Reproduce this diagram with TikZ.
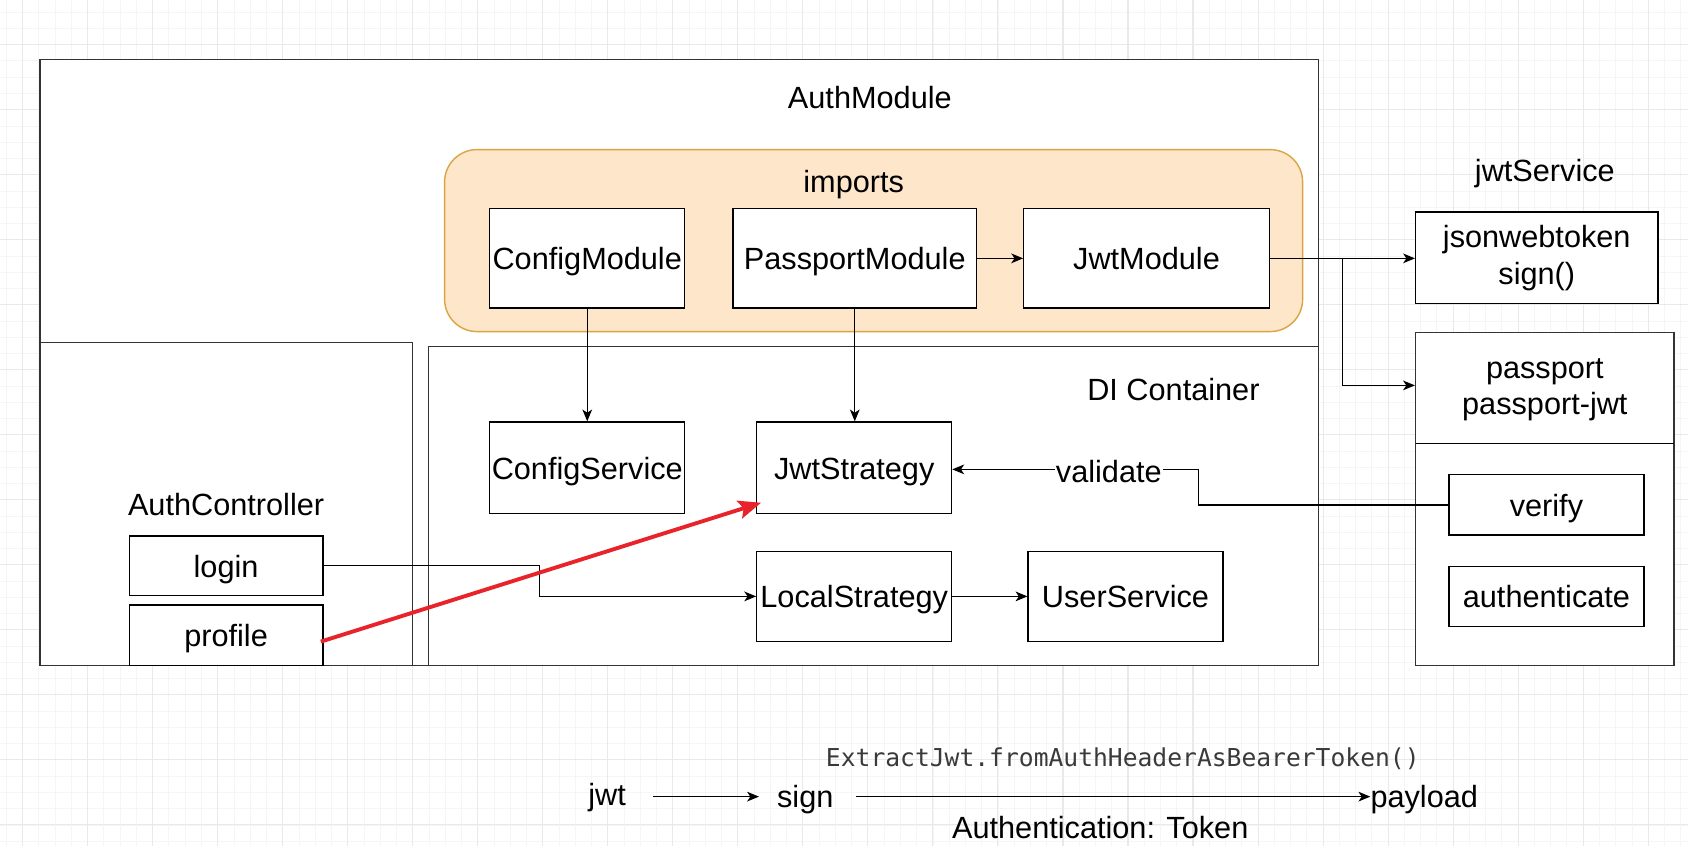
\documentclass[tikz,border=0pt]{standalone}
\usepackage{fontspec}
\setmainfont{Liberation Sans}
\newfontfamily\codefont{DejaVu Sans Mono}
\usetikzlibrary{arrows.meta}
\definecolor{gridmin}{HTML}{F5F5F5}
\definecolor{gridmaj}{HTML}{E9E9E9}
\definecolor{impfill}{HTML}{FDE6CA}
\definecolor{impdraw}{HTML}{D9A441}
\definecolor{redarrow}{HTML}{E8232A}
\definecolor{codegray}{HTML}{3A3A3A}
\tikzset{
  txt/.style={font=\fontsize{28.5}{33}\selectfont, inner sep=0pt, align=center},
  mtxt/.style={font=\fontsize{28.5}{33}\selectfont, inner sep=0pt, align=center},
  box/.style={draw=black, line width=1.2pt, fill=white, txt, text height=21pt, text depth=0pt},
  mbox/.style={draw=black, line width=1.2pt, fill=white, mtxt},
  frame/.style={draw=black!80, line width=1.3pt, fill=white, inner sep=0pt},
  conn/.style={draw=black, line width=1.2pt, -{Stealth[length=11pt,width=9pt,inset=3pt]}},
  plain/.style={draw=black, line width=1.2pt},
}
\begin{document}
\begin{tikzpicture}[x=1pt,y=-1pt]
\useasboundingbox (0,0) rectangle (1568,786);
\fill[white] (0,0) rectangle (1568,786);
% grid
\foreach \i in {0,...,104} {
  \pgfmathsetmacro{\gx}{5.9+15.1*\i}
  \draw[gridmin, line width=0.8pt] (\gx,0) -- (\gx,786);
}
\foreach \i in {0,...,52} {
  \pgfmathsetmacro{\gy}{11.3+15.1*\i}
  \draw[gridmin, line width=0.8pt] (0,\gy) -- (1568,\gy);
}
\foreach \i in {0,...,26} {
  \pgfmathsetmacro{\gx}{21+60.4*\i}
  \draw[gridmaj, line width=1pt] (\gx,0) -- (\gx,786);
}
\foreach \i in {0,...,13} {
  \pgfmathsetmacro{\gy}{41.5+60.4*\i}
  \draw[gridmaj, line width=1pt] (0,\gy) -- (1568,\gy);
}

% containers
\node[frame, minimum width=1188, minimum height=563] (authmod) at (631,336.5) {};
\node[txt] (authmodlbl) at (808,91) {AuthModule};
\node[frame, minimum width=346, minimum height=300] (authctl) at (210,468) {};
\node[txt] (authctllbl) at (210,469) {AuthController};
\node[frame, minimum width=827, minimum height=296] (di) at (811.5,470) {};
\node[txt] (dilbl) at (1090,362) {DI Container};

% imports
\node[draw=impdraw, fill=impfill, line width=1.3pt, rounded corners=30pt,
      minimum width=797, minimum height=169, inner sep=0pt] (imports) at (811.5,223.5) {};
\node[txt] (importslbl) at (793,171) {imports};
\node[box, minimum width=181, minimum height=92] (cfgm) at (545.5,240) {ConfigModule};
\node[box, minimum width=226, minimum height=92] (passm) at (794,240) {PassportModule};
\node[box, minimum width=228, minimum height=92] (jwtm) at (1065,240) {JwtModule};

% DI content
\node[box, minimum width=181, minimum height=85] (cfgs) at (545.5,434.5) {ConfigService};
\node[box, minimum width=181, minimum height=85] (jwts) at (793.5,434.5) {JwtStrategy};
\node[box, minimum width=181, minimum height=84] (locs) at (793.5,554) {LocalStrategy};
\node[box, minimum width=181, minimum height=84] (users) at (1045.5,554) {UserService};

% controller content
\node[box, minimum width=180, minimum height=55] (login) at (210,525.5) {login};
\node[box, minimum width=180, minimum height=56] (profile) at (210,590) {profile};

% right side
\node[txt] (jwtsvc) at (1435,161) {jwtService};
\node[mbox, minimum width=225, minimum height=85] (jsonwt) at (1427.5,239.5) {jsonwebtoken\\[1pt]sign()};
\node[frame, minimum width=240, minimum height=309] (passport) at (1435,463.5) {};
\node[mtxt] (passportlbl) at (1435,362) {passport\\[1pt]passport-jwt};
\draw[plain] (1315,412) -- (1555,412);
\node[box, minimum width=181, minimum height=56] (verify) at (1436.5,469) {verify};
\node[box, minimum width=181, minimum height=56] (authn) at (1436.5,554) {authenticate};

% connectors
\draw[conn] (passm.east) -- (jwtm.west);
\draw[conn] (cfgm.south) -- (cfgs.north);
\draw[conn] (passm.south) -- (jwts.north-|passm.south);
\draw[conn] (locs.east) -- (users.west);
\coordinate (br) at (1247,240);
\draw[conn] (jwtm.east) -- (jsonwt.west|-jwtm.east);
\draw[conn] (br) |- (passport.west|-0,358);
\draw[conn] (login.east) -| (501,554) -- (locs.west);
\draw[plain] (verify.west) -| (1113,436) -- (1080,436);
\node[txt, fill=white, inner xsep=1pt, inner ysep=2pt, text height=21pt, text depth=0pt] (valid) at (1030,438) {validate};
\draw[conn] (valid.west|-0,436) -- (jwts.east|-0,436);
\draw[plain] (valid.east|-0,436) -- (1113,436);

% red arrow
\coordinate (rstart) at (298,596);
\draw[redarrow, line width=3.6pt, -{Stealth[length=21pt,width=17pt,inset=4pt]}] (rstart) -- (707,467);

% bottom flow
\node[txt] (jwtw) at (564,741) {jwt};
\node[txt] (signw) at (748,743) {sign};
\node[txt] (payl) at (1323,743) {payload};
\draw[conn] (jwtw.east|-0,740) ++(25,0) coordinate (a1) -- (705,740) coordinate (a2);
\draw[conn] (795,740) coordinate (b1) -- (payl.west|-0,740);
\node[font=\codefont\fontsize{22.9}{26}\selectfont, text=codegray, inner sep=0pt] (code) at (1043,705) {ExtractJwt.fromAuthHeaderAsBearerToken()};
\node[txt] (authtok) at (1022,769) {Authentication: Token};
\end{tikzpicture}
\end{document}
